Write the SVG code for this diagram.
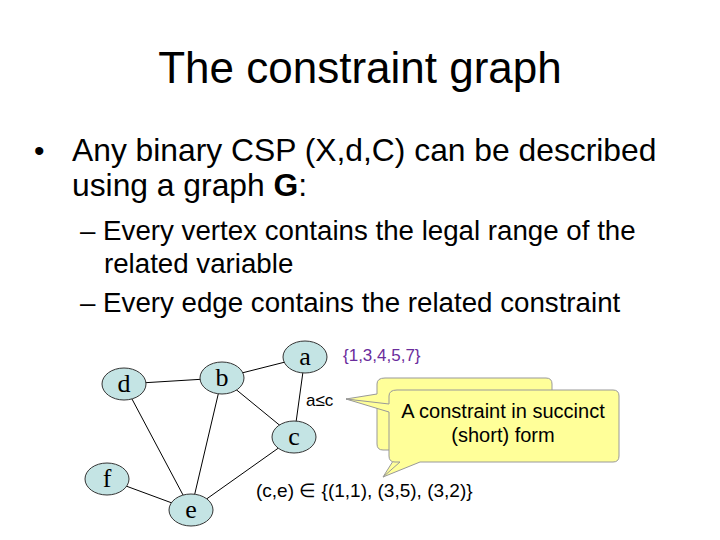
<svg xmlns="http://www.w3.org/2000/svg" width="720" height="540" viewBox="0 0 720 540">
<style>
text{font-family:"Liberation Sans",Arial,sans-serif;fill:#000}
.n ellipse{fill:#c4e4e4;stroke:#333;stroke-width:1}
.n text{font-family:"Liberation Serif","Times New Roman",serif;font-size:26px;text-anchor:middle}
.e line{stroke:#000;stroke-width:1}
.co{fill:#ffff99;stroke:#999;stroke-width:1}
</style>
<rect width="720" height="540" fill="#fff"/>
<text x="360" y="83" font-size="44" text-anchor="middle">The constraint graph</text>
<text x="34" y="161" font-size="30">•</text>
<text x="72" y="161" font-size="31.8">Any binary CSP (X,d,C) can be described</text>
<text x="72" y="196" font-size="31.8">using a graph <tspan font-weight="bold">G</tspan>:</text>
<text x="80" y="240" font-size="27.7">– Every vertex contains the legal range of the</text>
<text x="104" y="273" font-size="27.7">related variable</text>
<text x="80" y="312" font-size="27.7">– Every edge contains the related constraint</text>
<g class="e" id="edges">
<line x1="305" y1="357" x2="222" y2="378"/>
<line x1="124" y1="384" x2="222" y2="378"/>
<line x1="222" y1="378" x2="294" y2="437"/>
<line x1="305" y1="357" x2="294" y2="437"/>
<line x1="124" y1="384" x2="191" y2="510"/>
<line x1="222" y1="378" x2="191" y2="510"/>
<line x1="294" y1="437" x2="191" y2="510"/>
<line x1="107" y1="479" x2="191" y2="510"/>
</g>
<g class="n" id="a"><ellipse cx="305" cy="357" rx="22" ry="16"/><text x="305" y="365">a</text></g>
<g class="n" id="b"><ellipse cx="222" cy="378" rx="22" ry="16"/><text x="222" y="386">b</text></g>
<g class="n" id="d"><ellipse cx="124" cy="384" rx="22" ry="16"/><text x="124" y="392">d</text></g>
<g class="n" id="c"><ellipse cx="294" cy="437" rx="22" ry="16"/><text x="294" y="445">c</text></g>
<g class="n" id="f"><ellipse cx="107" cy="479" rx="22" ry="16"/><text x="107" y="487">f</text></g>
<g class="n" id="e"><ellipse cx="191" cy="510" rx="22" ry="16"/><text x="191" y="518">e</text></g>
<text x="343" y="361" font-size="17" style="fill:#6a2c9c">{1,3,4,5,7}</text>
<text x="306" y="406" font-size="17">a≤c</text>
<text x="256" y="497" font-size="19">(c,e) ∈ {(1,1), (3,5), (3,2)}</text>
<g id="callout-back">
<path class="co" d="M385,378 H546 Q552,378 552,384 V444 Q552,450 546,450 H420 L383,477 L400,450 H383 Q377,450 377,444 V404 L346,399 L377,394 V384 Q377,378 385,378 Z"/>
</g>
<g id="callout-front">
<path class="co" d="M397,390 H613 Q619,390 619,396 V456 Q619,462 613,462 H420 L383,477 L400,462 H395 Q389,462 389,456 V412 L346,399 L389,404 V396 Q389,390 397,390 Z"/>
<text x="503" y="418" font-size="20" text-anchor="middle">A constraint in succinct</text>
<text x="503" y="442" font-size="20" text-anchor="middle">(short) form</text>
</g>
</svg>
